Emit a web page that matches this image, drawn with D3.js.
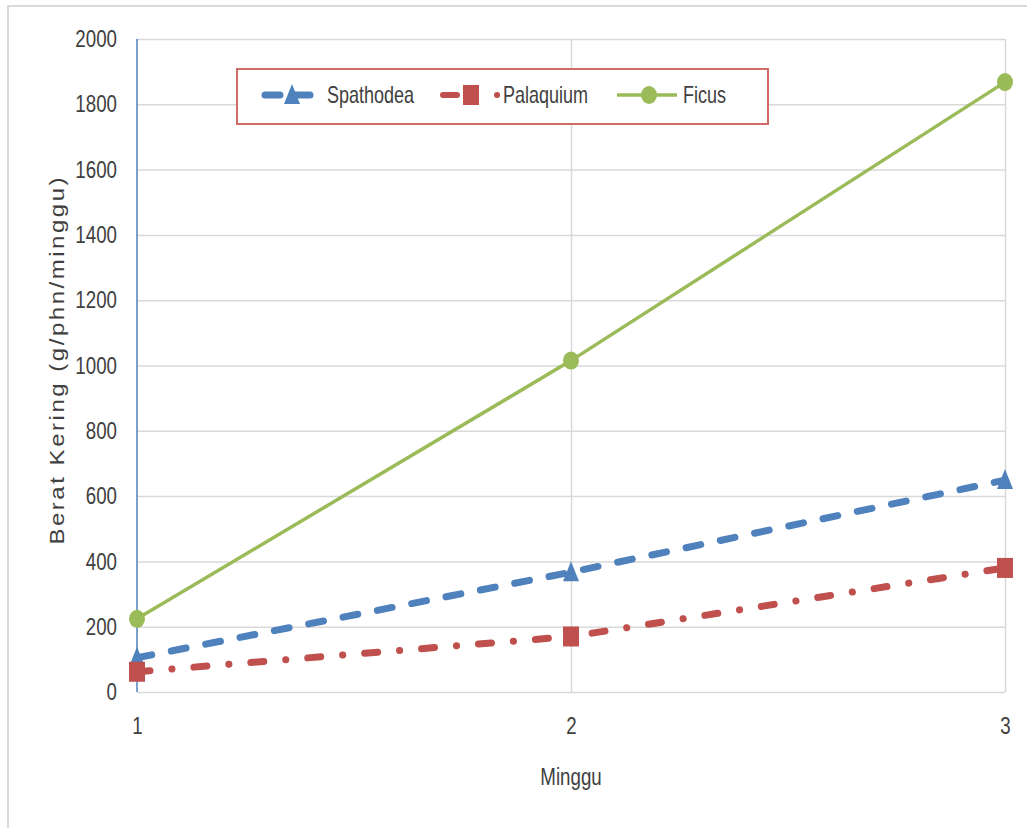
<!DOCTYPE html>
<html lang="en">
	<head>
		<meta charset="utf-8">
		<title>D3: Berat Kering per minggu</title>
		<script type="text/javascript" src="https://d3js.org/d3.v7.min.js"></script>
		<style type="text/css">
			body { margin: 0; background: #fff; }
			.tick-label {
				font-family: "Liberation Sans", sans-serif;
				font-size: 24px;
				fill: #404040;
			}
			.legend-label {
				font-family: "Liberation Sans", sans-serif;
				font-size: 24px;
				fill: #404040;
			}
			.axis-title {
				font-family: "Liberation Sans", sans-serif;
				font-size: 20px;
				fill: #404040;
			}
		</style>
	</head>
	<body>
		<div id="chart"></div>
		<script type="text/javascript">
			// data
			const weeks = [1, 2, 3];
			const spathodea = [105, 367, 649];
			const palaquium = [62, 170, 380];
			const ficus = [224, 1015, 1868];
			const yTicks = [0, 200, 400, 600, 800, 1000, 1200, 1400, 1600, 1800, 2000];
			const seriesNames = ["Spathodea", "Palaquium", "Ficus"];

			const W = 1027, H = 828;
			const margin = { top: 39, right: 22, bottom: 136, left: 137 };
			const width = W - margin.left - margin.right;
			const height = H - margin.top - margin.bottom;
			const sx = 0.78; // narrow look of the original font

			const series = [
				{ name: seriesNames[0], values: spathodea, color: "#4f81bd", width: 7, dash: "15,20", marker: "triangle" },
				{ name: seriesNames[1], values: palaquium, color: "#c0504d", width: 7, dash: "13,22,0.1,22", marker: "square" },
				{ name: seriesNames[2], values: ficus, color: "#9bbb59", width: 3.5, dash: null, marker: "circle" }
			];

			const svg = d3.select("#chart").append("svg")
				.attr("width", W).attr("height", H);

			// outer chart border
			svg.append("path")
				.attr("d", `M8,${H} V6 H${W}`)
				.attr("fill", "none")
				.attr("stroke", "#d9d9d9")
				.attr("stroke-width", 2);

			const g = svg.append("g")
				.attr("transform", "translate(" + margin.left + "," + margin.top + ")");

			const xScale = d3.scaleLinear().domain([1, 3]).range([0, width]);
			const yScale = d3.scaleLinear().domain([0, 2000]).range([height, 0]);

			// grid
			g.append("g")
				.call(d3.axisLeft(yScale).tickValues(yTicks).tickSize(-width).tickFormat(""))
				.call(s => s.select(".domain").remove())
				.selectAll("line").attr("stroke", "#d9d9d9").attr("stroke-width", 1.5);
			g.append("g")
				.call(d3.axisBottom(xScale).tickValues(weeks.slice(1)).tickSize(height).tickFormat(""))
				.call(s => s.select(".domain").remove())
				.selectAll("line").attr("stroke", "#d9d9d9").attr("stroke-width", 1.5);

			// y axis line
			g.append("line")
				.attr("x1", 0).attr("x2", 0)
				.attr("y1", 0).attr("y2", height)
				.attr("stroke", "#4f81bd").attr("stroke-width", 1.5);

			// tick labels
			const yAxis = g.append("g")
				.call(d3.axisLeft(yScale).tickValues(yTicks).tickSize(0).tickFormat(d3.format("d")));
			yAxis.select(".domain").remove();
			yAxis.selectAll("text")
				.attr("class", "tick-label").attr("font-size", null)
				.attr("x", -20 / sx)
				.attr("transform", "scale(" + sx + ",1)");

			const xAxis = g.append("g")
				.attr("transform", "translate(0," + height + ")")
				.call(d3.axisBottom(xScale).tickValues(weeks).tickSize(0).tickPadding(25).tickFormat(d3.format("d")));
			xAxis.select(".domain").remove();
			xAxis.selectAll("text")
				.attr("class", "tick-label").attr("font-size", null)
				.attr("transform", "scale(" + sx + ",1)");

			// axis titles
			g.append("text")
				.attr("class", "axis-title")
				.attr("transform", "translate(" + (57 - margin.left) + "," + (361 - margin.top) + ") rotate(-90) scale(1.2,1)")
				.attr("dy", "0.35em")
				.attr("text-anchor", "middle")
				.attr("textLength", 306)
				.attr("lengthAdjust", "spacing")
				.text("Berat Kering (g/phn/minggu)");

			g.append("text")
				.attr("class", "tick-label")
				.attr("transform", "translate(" + xScale(2) + "," + (777 - margin.top) + ") scale(" + sx + ",1)")
				.attr("dy", "0.35em")
				.attr("text-anchor", "middle")
				.text("Minggu");

			// markers
			function drawMarker(sel, type, color) {
				if (type === "triangle") {
					sel.append("path").attr("d", "M0,-11 L8,9 L-8,9 Z").attr("fill", color);
				} else if (type === "square") {
					sel.append("rect").attr("x", -8).attr("y", -10).attr("width", 16).attr("height", 20).attr("fill", color);
				} else {
					sel.append("ellipse").attr("rx", 8).attr("ry", 9).attr("fill", color);
				}
			}

			const line = d3.line()
				.x((d, i) => xScale(weeks[i]))
				.y(d => yScale(d));

			series.forEach(function(s) {
				g.append("path")
					.datum(s.values)
					.attr("d", line)
					.attr("fill", "none")
					.attr("stroke", s.color)
					.attr("stroke-width", s.width)
					.attr("stroke-linecap", s.dash ? "round" : "butt")
					.attr("stroke-dasharray", s.dash);
				s.values.forEach(function(v, i) {
					const m = g.append("g")
						.attr("transform", "translate(" + xScale(weeks[i]) + "," + yScale(v) + ")");
					drawMarker(m, s.marker, s.color);
				});
			});

			// legend
			const legend = svg.append("g");
			legend.append("rect")
				.attr("x", 237).attr("y", 69)
				.attr("width", 531).attr("height", 55)
				.attr("fill", "#fff")
				.attr("stroke", "#d06a66")
				.attr("stroke-width", 2);

			const legendX = [265, 443, 617];
			const legendMarkX = [292, 471, 649];
			const legendLen = [50, 58, 60];
			const legendDash = ["15,15", "14,40,0.1,100", null];
			const legendTextX = [327, 503, 683];
			series.forEach(function(s, i) {
				const ly = 95;
				legend.append("line")
					.attr("x1", legendX[i]).attr("x2", legendX[i] + legendLen[i])
					.attr("y1", ly).attr("y2", ly)
					.attr("stroke", s.color)
					.attr("stroke-width", i === 1 ? 6 : s.width)
					.attr("stroke-linecap", s.dash ? "round" : "butt")
					.attr("stroke-dasharray", legendDash[i]);
				const m = legend.append("g")
					.attr("transform", "translate(" + legendMarkX[i] + "," + ly + ")");
				drawMarker(m, s.marker, s.color);
				legend.append("text")
					.attr("class", "legend-label")
					.attr("transform", "translate(" + legendTextX[i] + "," + ly + ") scale(0.75,1)")
					.attr("dy", "0.35em")
					.text(s.name);
			});
		</script>
	</body>
</html>
